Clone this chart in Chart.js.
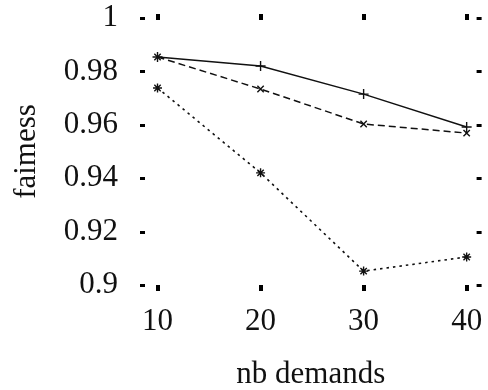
<!DOCTYPE html>
<html>
<head>
    <title>fairness vs nb demands</title>
    <script src="https://cdn.jsdelivr.net/npm/chart.js"></script>
    <style>
        body { margin: 0; background: #fff; }
    </style>
</head>
<body>
    <canvas id="myChart" width="488" height="390"></canvas>
    <script>
        // values
        var demands = [10, 20, 30, 40];
        var solidSeries = [0.9854, 0.982, 0.9715, 0.9592];
        var dashedSeries = [0.9854, 0.9734, 0.9603, 0.9569];
        var dottedSeries = [0.9738, 0.942, 0.9052, 0.9105];
        var xTicks = [10, 20, 30, 40];
        var yTicks = [0.9, 0.92, 0.94, 0.96, 0.98, 1];

        var serif = 'Liberation Serif';
        var ink = '#111';

        function pts(vals) {
            return demands.map(function(d, i) { return { x: d, y: vals[i] }; });
        }

        // gnuplot style inward tick marks on all four sides
        var tickMarks = {
            id: 'tickMarks',
            afterDraw: function(chart) {
                var c = chart.ctx, a = chart.chartArea;
                var xs = chart.scales.x, ys = chart.scales.y;
                c.save();
                c.fillStyle = '#000';
                yTicks.forEach(function(v) {
                    var py = Math.round(ys.getPixelForValue(v));
                    c.fillRect(a.left, py - 1, 5, 3);
                    c.fillRect(a.right - 5, py - 1, 5, 3);
                });
                xTicks.forEach(function(v) {
                    var px = Math.round(xs.getPixelForValue(v));
                    c.fillRect(px - 2, a.top - 4, 4, 6);
                    c.fillRect(px - 2, a.bottom, 4, 6);
                });
                c.restore();
            }
        };

        var ctx = document.getElementById('myChart').getContext('2d');
        var chart = new Chart(ctx, {
            type: 'line',
            data: {
                datasets: [{
                    label: 'solid',
                    data: pts(solidSeries),
                    borderColor: ink,
                    borderWidth: 1.5,
                    pointStyle: 'cross',
                    pointRadius: 5,
                    pointBorderColor: ink,
                    pointBorderWidth: 1.4,
                    fill: false
                }, {
                    label: 'dashed',
                    data: pts(dashedSeries),
                    borderColor: ink,
                    borderWidth: 1.5,
                    borderDash: [7, 4],
                    pointStyle: 'crossRot',
                    pointRadius: 4.5,
                    pointBorderColor: ink,
                    pointBorderWidth: 1.4,
                    fill: false
                }, {
                    label: 'dotted',
                    data: pts(dottedSeries),
                    borderColor: ink,
                    borderWidth: 1.6,
                    borderDash: [2.5, 4],
                    pointStyle: 'star',
                    pointRadius: 4.5,
                    pointBorderColor: ink,
                    pointBorderWidth: 1.4,
                    fill: false
                }]
            },
            options: {
                responsive: false,
                animation: false,
                layout: { padding: { top: 18, right: 6, left: 0, bottom: 0 } },
                plugins: {
                    legend: { display: false },
                    tooltip: { enabled: false }
                },
                scales: {
                    x: {
                        type: 'linear',
                        min: 8.3,
                        max: 41.45,
                        afterBuildTicks: function(s) {
                            s.ticks = xTicks.map(function(v) { return { value: v }; });
                        },
                        afterFit: function(s) {
                            s.height = 105;
                            s.paddingLeft = 0;
                            s.paddingRight = 0;
                        },
                        grid: { display: false, drawTicks: false },
                        border: { display: false },
                        ticks: {
                            padding: 18,
                            color: ink,
                            font: { family: serif, size: 31 }
                        },
                        title: {
                            display: true,
                            text: 'nb demands',
                            color: ink,
                            padding: 0,
                            font: { family: serif, size: 31, lineHeight: 1 }
                        }
                    },
                    y: {
                        min: 0.9,
                        max: 1,
                        afterBuildTicks: function(s) {
                            s.ticks = yTicks.map(function(v) { return { value: v }; });
                        },
                        afterFit: function(s) {
                            s.width = 140;
                            s.paddingTop = 0;
                            s.paddingBottom = 0;
                        },
                        grid: { display: false, drawTicks: false },
                        border: { display: false },
                        ticks: {
                            padding: 22,
                            color: ink,
                            font: { family: serif, size: 31 },
                            callback: function(v) { return String(Math.round(v * 100) / 100); }
                        },
                        title: {
                            display: true,
                            text: 'faimess',
                            color: ink,
                            padding: { top: 11, bottom: 0 },
                            font: { family: serif, size: 31, lineHeight: 1 }
                        }
                    }
                }
            },
            plugins: [tickMarks]
        });
    </script>
</body>
</html>
